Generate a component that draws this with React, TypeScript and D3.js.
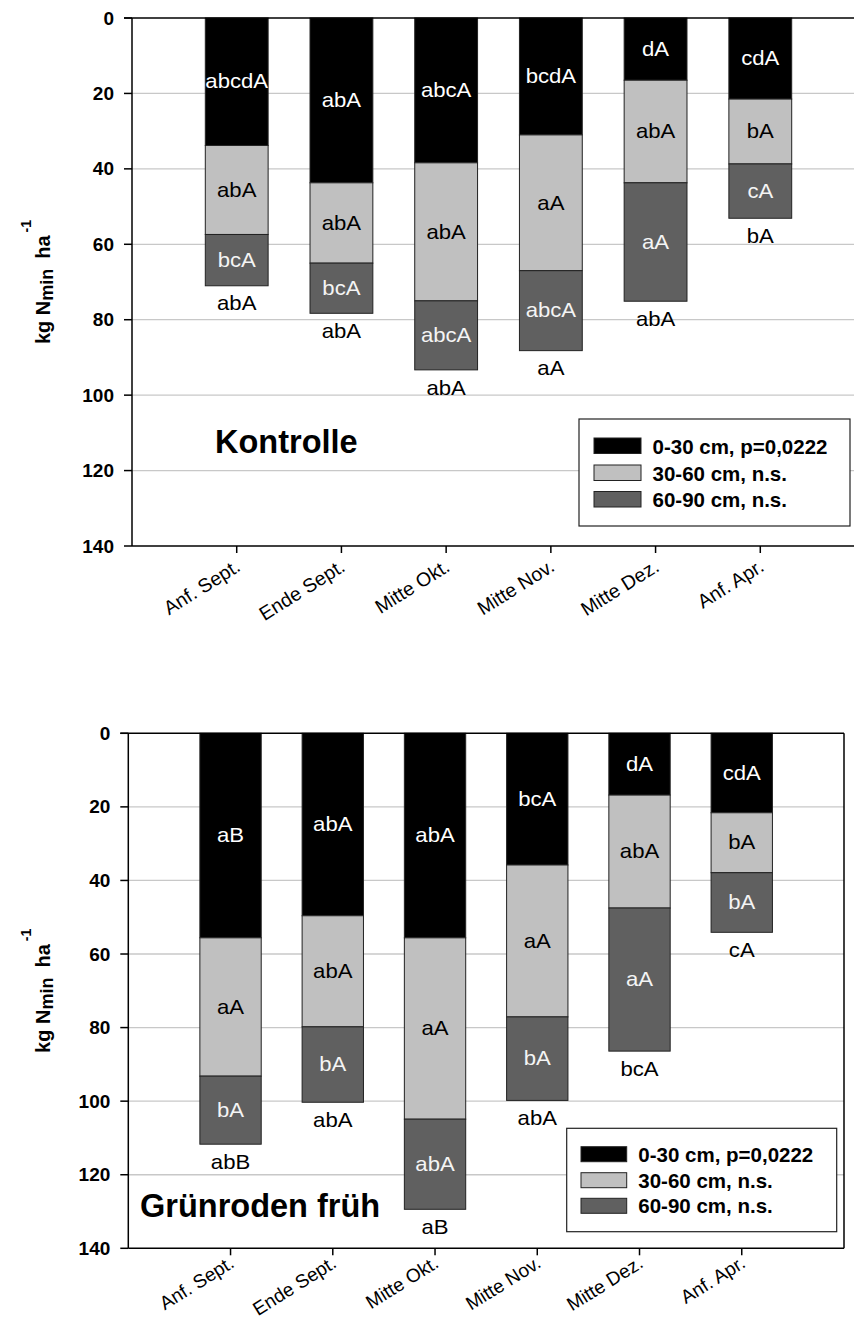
import React from "react";
import * as d3 from "d3";

const categories = ["Anf. Sept.", "Ende Sept.", "Mitte Okt.", "Mitte Nov.", "Mitte Dez.", "Anf. Apr."];
const layerKeys = ["d0_30", "d30_60", "d60_90"];
const legendLabels = ["0-30 cm, p=0,0222", "30-60 cm, n.s.", "60-90 cm, n.s."];
const yTicks = [0, 20, 40, 60, 80, 100, 120, 140];
const gridTicks = [20, 40, 60, 80, 100, 120];

// Kontrolle (kg N/ha per layer)
const kontrolle0_30 = [33.8, 43.7, 38.4, 31.0, 16.5, 21.5];
const kontrolle30_60 = [23.6, 21.3, 36.6, 36.0, 27.2, 17.2];
const kontrolle60_90 = [13.6, 13.3, 18.3, 21.2, 31.4, 14.4];
const kontrolleLabels0_30 = ["abcdA", "abA", "abcA", "bcdA", "dA", "cdA"];
const kontrolleLabels30_60 = ["abA", "abA", "abA", "aA", "abA", "bA"];
const kontrolleLabels60_90 = ["bcA", "bcA", "abcA", "abcA", "aA", "cA"];
const kontrolleTotalLabels = ["abA", "abA", "abA", "aA", "abA", "bA"];

// Grünroden früh
const gruen0_30 = [55.6, 49.6, 55.6, 35.8, 16.8, 21.6];
const gruen30_60 = [37.6, 30.2, 49.3, 41.3, 30.7, 16.3];
const gruen60_90 = [18.5, 20.5, 24.5, 22.7, 38.9, 16.2];
const gruenLabels0_30 = ["aB", "abA", "abA", "bcA", "dA", "cdA"];
const gruenLabels30_60 = ["aA", "abA", "aA", "aA", "abA", "bA"];
const gruenLabels60_90 = ["bA", "bA", "abA", "bA", "aA", "bA"];
const gruenTotalLabels = ["abB", "abA", "aB", "abA", "bcA", "cA"];

const fills = ["#000000", "#c0c0c0", "#606060"];
const labelColors = ["#ffffff", "#000000", "#f4f4f4"];
const FONT = "'Liberation Sans', Arial, Helvetica, sans-serif";
const W = 854;

type Frame = { left: number; top: number; right: number; bottom: number };
type Legend = { x: number; y: number; w: number; h: number; sx: number; sw: number; sh: number; rows: number[]; tx: number };

function Panel(props: {
  title: string;
  layers: number[][];
  labels: string[][];
  totals: string[];
  frame: Frame;
  legend: Legend;
  titlePos: [number, number];
  yTitleX: number;
  catOffset: number;
  catFont: number;
}) {
  const { title, layers, labels, totals, frame, legend, titlePos, yTitleX, catOffset, catFont } = props;
  const rows = categories.map((c, i) => {
    const r: any = { cat: c };
    layerKeys.forEach((k, j) => (r[k] = layers[j][i]));
    return r;
  });
  const series = d3.stack().keys(layerKeys)(rows);
  const x = d3
    .scalePoint<string>()
    .domain(["__start", ...categories, "__end"])
    .range([frame.left, frame.right]);
  const y = d3.scaleLinear().domain([0, 140]).range([frame.top, frame.bottom]);
  const bw = x.step() * 0.6;
  const cy = (frame.top + frame.bottom) / 2;
  const visRight = Math.min(frame.right, W);

  return (
    <g fontFamily={FONT}>
      {gridTicks.map((t) => (
        <line key={"g" + t} x1={frame.left} x2={visRight} y1={y(t)} y2={y(t)} stroke="#c8c8c8" strokeWidth={1.3} />
      ))}
      {series.map((s, j) =>
        s.map((d, i) => {
          const cx = x(categories[i])!;
          return (
            <rect
              key={`b${j}-${i}`}
              x={cx - bw / 2}
              y={y(d[0])}
              width={bw}
              height={y(d[1]) - y(d[0])}
              fill={fills[j]}
              stroke="#222"
              strokeWidth={1}
            />
          );
        })
      )}
      {series.map((s, j) =>
        s.map((d, i) => {
          const cx = x(categories[i])!;
          const my = (y(d[0]) + y(d[1])) / 2;
          return (
            <text
              key={`l${j}-${i}`}
              transform={`translate(${cx},${my}) scale(1.08,1)`}
              textAnchor="middle"
              dominantBaseline="central"
              fontSize={20.5}
              fill={labelColors[j]}
            >
              {labels[j][i]}
            </text>
          );
        })
      )}
      {series[series.length - 1].map((d, i) => (
        <text
          key={`t${i}`}
          transform={`translate(${x(categories[i])},${y(d[1]) + 18}) scale(1.08,1)`}
          textAnchor="middle"
          dominantBaseline="central"
          fontSize={20.5}
          fill="#000"
        >
          {totals[i]}
        </text>
      ))}
      {/* frame */}
      <line x1={frame.left - 8} x2={visRight} y1={frame.top} y2={frame.top} stroke="#000" strokeWidth={1.5} />
      <line x1={frame.left} x2={visRight} y1={frame.bottom} y2={frame.bottom} stroke="#000" strokeWidth={1.5} />
      <line x1={frame.left} x2={frame.left} y1={frame.top} y2={frame.bottom} stroke="#000" strokeWidth={1.5} />
      {frame.right <= W && (
        <line x1={frame.right} x2={frame.right} y1={frame.top} y2={frame.bottom} stroke="#000" strokeWidth={1.5} />
      )}
      {yTicks.map((t) => (
        <g key={"yt" + t}>
          <line x1={frame.left - 8} x2={frame.left} y1={y(t)} y2={y(t)} stroke="#000" strokeWidth={1.5} />
          <text x={frame.left - 18} y={y(t)} textAnchor="end" dominantBaseline="central" fontWeight="bold" fontSize={19}>
            {t}
          </text>
        </g>
      ))}
      {categories.map((c) => {
        const cx = x(c)!;
        return (
          <g key={"xt" + c}>
            <line x1={cx} x2={cx} y1={frame.bottom} y2={frame.bottom + 7} stroke="#000" strokeWidth={1.5} />
            <text transform={`translate(${cx + 5},${frame.bottom + catOffset}) rotate(-32)`} textAnchor="end" fontSize={catFont}>
              {c}
            </text>
          </g>
        );
      })}
      <text transform={`translate(${yTitleX},${cy}) rotate(-90)`} textAnchor="middle" fontWeight="bold" fontSize={20}>
        kg N<tspan fontSize={18} dy={3}>min</tspan>
        <tspan dy={-3} dx={10}>ha</tspan>
        <tspan fontSize={14} dy={-19} dx={3}>-1</tspan>
      </text>
      <text x={titlePos[0]} y={titlePos[1]} fontWeight="bold" fontSize={32.5}>
        {title}
      </text>
      <g>
        <rect x={legend.x} y={legend.y} width={legend.w} height={legend.h} fill="#fff" stroke="#222" strokeWidth={1.2} />
        {legendLabels.map((l, j) => (
          <g key={"lg" + j}>
            <rect
              x={legend.x + legend.sx}
              y={legend.y + legend.rows[j]}
              width={legend.sw}
              height={legend.sh}
              fill={fills[j]}
              stroke="#222"
              strokeWidth={1}
            />
            <text x={legend.x + legend.tx} y={legend.y + legend.rows[j] + legend.sh} fontWeight="bold" fontSize={20.5}>
              {l}
            </text>
          </g>
        ))}
      </g>
    </g>
  );
}

export default function App() {
  return (
    <svg width={W} height={1322} style={{ position: "absolute", left: 0, top: 0, background: "#fff" }}>
      <rect x={0} y={0} width={W} height={1322} fill="#fff" />
      <Panel
        title="Kontrolle"
        layers={[kontrolle0_30, kontrolle30_60, kontrolle60_90]}
        labels={[kontrolleLabels0_30, kontrolleLabels30_60, kontrolleLabels60_90]}
        totals={kontrolleTotalLabels}
        frame={{ left: 132, top: 18, right: 865, bottom: 546 }}
        legend={{ x: 579, y: 419, w: 271, h: 107, sx: 15, sw: 47, sh: 15.5, rows: [19, 46, 72.5], tx: 73.5 }}
        titlePos={[215, 453]}
        yTitleX={50}
        catOffset={24}
        catFont={19.5}
      />
      <Panel
        title="Grünroden früh"
        layers={[gruen0_30, gruen30_60, gruen60_90]}
        labels={[gruenLabels0_30, gruenLabels30_60, gruenLabels60_90]}
        totals={gruenTotalLabels}
        frame={{ left: 128.3, top: 733.3, right: 844, bottom: 1248.3 }}
        legend={{ x: 566.7, y: 1128.3, w: 270, h: 103.4, sx: 14.3, sw: 45.7, sh: 15, rows: [18.4, 44.4, 70], tx: 71.6 }}
        titlePos={[140, 1217]}
        yTitleX={50}
        catOffset={18}
        catFont={19}
      />
    </svg>
  );
}
